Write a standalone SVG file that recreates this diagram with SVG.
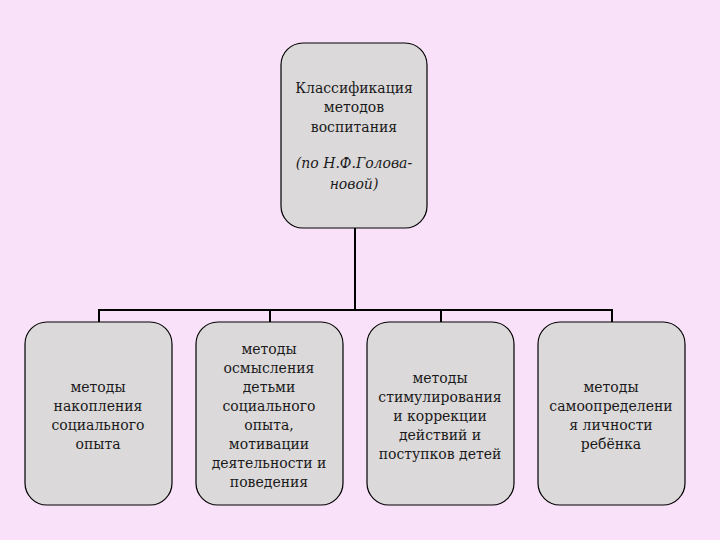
<svg xmlns="http://www.w3.org/2000/svg" width="720" height="540" viewBox="0 0 720 540">
<style>
.box{fill:#DCD9DA;stroke:#000;stroke-width:1.2}
.t{font-family:'DejaVu Serif',serif;font-size:14px;fill:#1a1a1a;text-anchor:middle}
.i{font-style:italic}
.c{fill:none;stroke:#000;stroke-width:2}
</style>
<rect width="720" height="540" fill="#F9E1F9"/>
<g id="connectors">
<path class="c" d="M355 228V310M99 310H612M99 309V322M270 309V322M441 309V322M612 309V322"/>
</g>
<g id="root">
<rect class="box" x="281" y="43" width="146" height="185" rx="22"/>
<text class="t" x="354" y="93">Классификация</text>
<text class="t" x="354" y="112">методов</text>
<text class="t" x="354" y="132">воспитания</text>
<text class="t i" x="354" y="168">(по Н.Ф.Голова-</text>
<text class="t i" x="354" y="189">новой)</text>
</g>
<g id="n1">
<rect class="box" x="25" y="322" width="147" height="183" rx="22"/>
<text class="t" x="98" y="392">методы</text>
<text class="t" x="98" y="411">накопления</text>
<text class="t" x="98" y="430">социального</text>
<text class="t" x="98" y="449">опыта</text>
</g>
<g id="n2">
<rect class="box" x="196" y="322" width="147" height="183" rx="22"/>
<text class="t" x="269" y="354">методы</text>
<text class="t" x="269" y="373">осмысления</text>
<text class="t" x="269" y="392">детьми</text>
<text class="t" x="269" y="411">социального</text>
<text class="t" x="269" y="430">опыта,</text>
<text class="t" x="269" y="449">мотивации</text>
<text class="t" x="269" y="468">деятельности и</text>
<text class="t" x="269" y="487">поведения</text>
</g>
<g id="n3">
<rect class="box" x="367" y="322" width="147" height="183" rx="22"/>
<text class="t" x="440" y="383">методы</text>
<text class="t" x="440" y="402">стимулирования</text>
<text class="t" x="440" y="421">и коррекции</text>
<text class="t" x="440" y="440">действий и</text>
<text class="t" x="440" y="459">поступков детей</text>
</g>
<g id="n4">
<rect class="box" x="538" y="322" width="147" height="183" rx="22"/>
<text class="t" x="611" y="392">методы</text>
<text class="t" x="611" y="411">самоопределени</text>
<text class="t" x="611" y="430">я личности</text>
<text class="t" x="611" y="449">ребёнка</text>
</g>
</svg>
